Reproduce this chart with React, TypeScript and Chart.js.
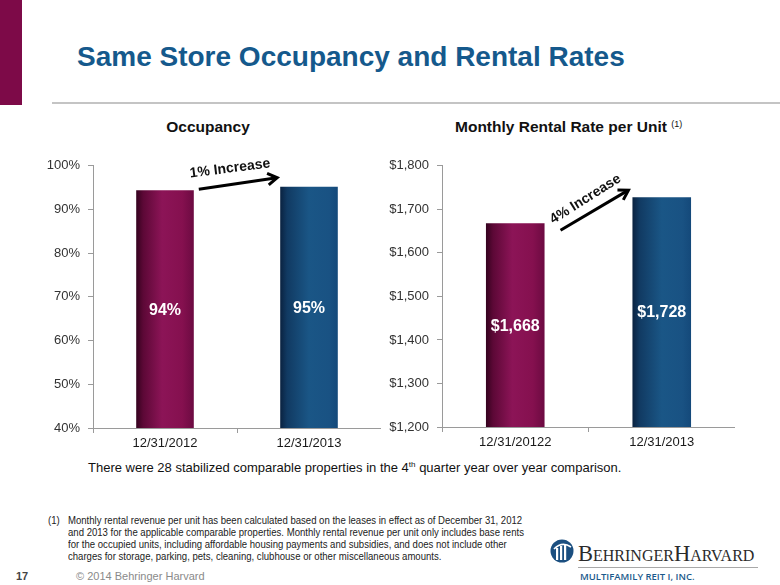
import React, { useEffect, useRef } from "react";
import { Chart, registerables } from "chart.js";

Chart.register(...registerables);

// ---- data ----
const occCategories = ["12/31/2012", "12/31/2013"];
const occValues = [94.4, 95.2];
const occMin = 40;
const occMax = 100;
const occStep = 10;

const rentCategories = ["12/31/20122", "12/31/2013"];
const rentValues = [1668, 1728];
const rentMin = 1200;
const rentMax = 1800;
const rentStep = 100;

const occArrowText = "1% Increase";
const rentArrowText = "4% Increase";

const FONT = "'Liberation Sans', Arial, sans-serif";

const maroonStops: [number, string][] = [
  [0, "#34021e"],
  [0.12, "#5c0836"],
  [0.45, "#8c1457"],
  [0.8, "#85104f"],
  [1, "#6c0a41"],
];
const blueStops: [number, string][] = [
  [0, "#0a2240"],
  [0.12, "#113a62"],
  [0.5, "#1a5686"],
  [0.85, "#195283"],
  [1, "#14497a"],
];

function barFill(ctx: any) {
  const chart = ctx.chart;
  const i = ctx.dataIndex;
  const stops = i === 0 ? maroonStops : blueStops;
  const xs = chart.scales && chart.scales.x;
  if (i === undefined || !chart.chartArea || !xs) return stops[2][1];
  const cx = xs.getPixelForValue(i);
  const w = (xs.width / chart.data.labels.length) * 0.4;
  const g = chart.ctx.createLinearGradient(cx - w / 2, 0, cx + w / 2, 0);
  stops.forEach(([o, c]) => g.addColorStop(o, c));
  return g;
}

const annotPlugin = {
  id: "annot",
  afterDatasetsDraw(chart: any, _args: any, opts: any) {
    const c = chart.ctx;
    const meta = chart.getDatasetMeta(0);
    const ds = chart.data.datasets[0];
    const bottom = chart.chartArea.bottom;
    c.save();
    // value labels inside bars
    c.fillStyle = "#ffffff";
    c.font = `bold 16px ${FONT}`;
    c.textAlign = "center";
    c.textBaseline = "middle";
    meta.data.forEach((el: any, i: number) => {
      const p = el.getProps(["x", "y", "base"], true);
      const base = Math.min(p.base, bottom);
      c.fillText(opts.format(ds.data[i]), p.x, (p.y + base) / 2 + 1);
    });
    // arrow
    const b0 = meta.data[0].getProps(["x", "y", "width"], true);
    const b1 = meta.data[1].getProps(["x", "y", "width"], true);
    const x1 = b0.x + b0.width / 2 + opts.start[0];
    const y1 = b0.y + opts.start[1];
    const x2 = b1.x - b1.width / 2 + opts.end[0];
    const y2 = b1.y + opts.end[1];
    const a = Math.atan2(y2 - y1, x2 - x1);
    c.strokeStyle = "#000";
    c.lineWidth = 3;
    c.lineCap = "butt";
    c.lineJoin = "miter";
    c.beginPath();
    c.moveTo(x1, y1);
    c.lineTo(x2 - Math.cos(a) * 2, y2 - Math.sin(a) * 2);
    c.stroke();
    const h = 11;
    const sp = 0.55;
    c.beginPath();
    c.moveTo(x2 - h * Math.cos(a - sp), y2 - h * Math.sin(a - sp));
    c.lineTo(x2, y2);
    c.lineTo(x2 - h * Math.cos(a + sp), y2 - h * Math.sin(a + sp));
    c.stroke();
    // arrow text
    const mx = (x1 + x2) / 2 + opts.textOffset[0];
    const my = (y1 + y2) / 2 + opts.textOffset[1];
    c.translate(mx, my);
    c.rotate(a + opts.textAngleAdj);
    c.fillStyle = "#111";
    c.font = `bold 14px ${FONT}`;
    c.fillText(opts.text, 0, 0);
    c.restore();
  },
};

function makeConfig(
  labels: string[],
  values: number[],
  min: number,
  max: number,
  step: number,
  tickFmt: (v: number) => string,
  yWidth: number,
  xHeight: number,
  annot: any
): any {
  return {
    type: "bar",
    data: {
      labels,
      datasets: [
        {
          data: values,
          backgroundColor: barFill,
          borderWidth: 0,
          barPercentage: 0.4,
          categoryPercentage: 1,
        },
      ],
    },
    options: {
      animation: false,
      responsive: false,
      maintainAspectRatio: false,
      layout: { padding: { top: 12, left: 0, right: 0, bottom: 0 } },
      plugins: {
        legend: { display: false },
        tooltip: { enabled: false },
        title: { display: false },
        annot,
      },
      scales: {
        x: {
          offset: true,
          grid: {
            display: true,
            drawOnChartArea: false,
            drawTicks: true,
            tickLength: 5,
            color: "#9a9a9a",
            offset: true,
          },
          border: { display: true, color: "#9a9a9a", width: 1 },
          ticks: {
            color: "#1a1a1a",
            font: { family: FONT, size: 13 },
            padding: 3,
            maxRotation: 0,
          },
          afterFit(scale: any) {
            scale.height = xHeight;
          },
        },
        y: {
          min,
          max,
          grid: {
            display: true,
            drawOnChartArea: false,
            drawTicks: true,
            tickLength: 5,
            color: "#9a9a9a",
          },
          border: { display: true, color: "#9a9a9a", width: 1 },
          ticks: {
            stepSize: step,
            color: "#333333",
            font: { family: FONT, size: 13 },
            padding: 8,
            callback: (v: any) => tickFmt(Number(v)),
          },
          afterFit(scale: any) {
            scale.width = yWidth;
          },
        },
      },
    },
    plugins: [annotPlugin],
  };
}

const pct = (v: number) => `${Math.round(v)}%`;
const usd = (v: number) => "$" + Math.round(v).toLocaleString("en-US");

function BarChart(props: { config: any; style: React.CSSProperties; w: number; h: number }) {
  const ref = useRef<HTMLCanvasElement | null>(null);
  useEffect(() => {
    if (!ref.current) return;
    const ch = new Chart(ref.current, props.config);
    return () => ch.destroy();
  }, []);
  return (
    <canvas
      ref={ref}
      width={props.w}
      height={props.h}
      style={{ position: "absolute", width: props.w, height: props.h, ...props.style }}
    />
  );
}

const abs = (s: React.CSSProperties): React.CSSProperties => ({
  position: "absolute",
  whiteSpace: "nowrap",
  lineHeight: 1,
  fontFamily: FONT,
  ...s,
});

export default function App() {
  useEffect(() => {
    document.body.style.margin = "0";
  }, []);

  const occCfg = makeConfig(occCategories, occValues, occMin, occMax, occStep, pct, 63, 32, {
    text: occArrowText,
    format: pct,
    start: [5, -1],
    end: [-3, -9],
    textOffset: [-8, -15],
    textAngleAdj: 0.02,
  });
  const rentCfg = makeConfig(rentCategories, rentValues, rentMin, rentMax, rentStep, usd, 62, 33, {
    text: rentArrowText,
    format: usd,
    start: [16, 7],
    end: [-4, -7],
    textOffset: [-9, -11],
    textAngleAdj: -0.03,
  });

  return (
    <div
      style={{
        position: "fixed",
        left: 0,
        top: 0,
        width: 780,
        height: 585,
        overflow: "hidden",
        background: "#ffffff",
      }}
    >
      {/* left strip */}
      <div style={{ position: "absolute", left: 0, top: 0, width: 22, height: 105, background: "#7d0a48" }} />
      {/* title */}
      <div style={abs({ left: 77, top: 43, fontSize: 28, fontWeight: "bold", color: "#15598c" })}>
        Same Store Occupancy and Rental Rates
      </div>
      {/* rule */}
      <div style={{ position: "absolute", left: 52, top: 102, width: 728, height: 2, background: "#c4c4c4" }} />

      {/* chart titles */}
      <div style={abs({ left: 108, width: 200, textAlign: "center", top: 119, fontSize: 15.5, fontWeight: "bold", color: "#111" })}>
        Occupancy
      </div>
      <div style={abs({ left: 455, top: 119, fontSize: 15.5, fontWeight: "bold", color: "#111" })}>
        Monthly Rental Rate per Unit{" "}
        <span style={{ fontSize: 9, fontWeight: "normal", verticalAlign: "5px" }}>(1)</span>
      </div>

      <BarChart config={occCfg} w={351} h={310} style={{ left: 30, top: 150 }} />
      <BarChart config={rentCfg} w={355} h={310} style={{ left: 380, top: 150 }} />

      {/* note */}
      <div style={abs({ left: 88, top: 461, fontSize: 13, color: "#111" })}>
        There were 28 stabilized comparable properties in the 4
        <sup style={{ fontSize: 8, verticalAlign: "5px" }}>th</sup> quarter year over year comparison.
      </div>

      {/* footnote */}
      <div style={abs({ left: 48, top: 514, fontSize: 11, lineHeight: "12px", color: "#222", transform: "scaleX(0.87)", transformOrigin: "0 0" })}>(1)</div>
      <div
        style={abs({
          left: 68,
          top: 514,
          fontSize: 11,
          lineHeight: "12px",
          color: "#222",
          transform: "scaleX(0.87)",
          transformOrigin: "0 0",
        })}
      >
        Monthly rental revenue per unit has been calculated based on the leases in effect as of December 31, 2012
        <br />
        and 2013 for the applicable comparable properties. Monthly rental revenue per unit only includes base rents
        <br />
        for the occupied units, including affordable housing payments and subsidies, and does not include other
        <br />
        charges for storage, parking, pets, cleaning, clubhouse or other miscellaneous amounts.
      </div>

      {/* footer */}
      <div style={abs({ left: 16, top: 571, fontSize: 11, color: "#444", fontWeight: "bold" })}>17</div>
      <div style={abs({ left: 76, top: 571, fontSize: 11, color: "#8a8a8a" })}>© 2014 Behringer Harvard</div>

      {/* logo */}
      <svg style={{ position: "absolute", left: 550, top: 539 }} width={24} height={24} viewBox="0 0 24 24">
        <circle cx={12} cy={12} r={11.5} fill="#1b4f80" />
        <rect x={6} y={9} width={2.2} height={12} fill="#fff" />
        <rect x={10} y={7} width={2.2} height={14} fill="#fff" />
        <rect x={14} y={6} width={2.2} height={15} fill="#fff" />
        <path d="M4 10 Q12 2 21 8" stroke="#fff" strokeWidth={1.6} fill="none" />
      </svg>
      <div
        style={abs({
          left: 578,
          top: 543,
          fontSize: 22.5,
          fontFamily: "'Liberation Serif', 'DejaVu Serif', serif",
          fontVariant: "small-caps",
          color: "#2a2a2a",
          letterSpacing: 0,
        })}
      >
        BehringerHarvard
      </div>
      <div style={{ position: "absolute", left: 578, top: 567, width: 180, height: 1, background: "#a8a8a8" }} />
      <div style={abs({ left: 580, top: 572, fontSize: 9.5, color: "#1b5a8c", fontFamily: "'Open Sans', 'Liberation Sans', sans-serif", fontWeight: 600 })}>
        MULTIFAMILY REIT I, INC.
      </div>
    </div>
  );
}
